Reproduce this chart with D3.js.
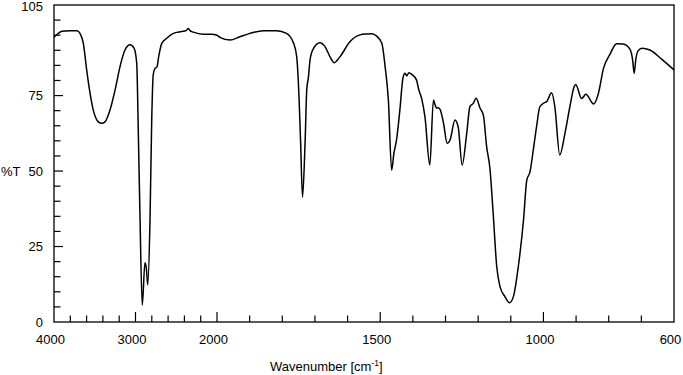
<!DOCTYPE html>
<html>
<head>
<meta charset="utf-8">
<script src="https://cdn.jsdelivr.net/npm/d3@7/dist/d3.min.js"></script>
<style>
  html, body { margin: 0; padding: 0; background: #fff; }
  svg { display: block; }
  text { font-family: "Liberation Sans", Arial, sans-serif; fill: #000; }
</style>
</head>
<body>
<svg id="chart" width="683" height="375"></svg>
<script>
// Wavenumbers (cm-1) of the spectrum samples
const wavenumbers = [4000,3951,3902,3804,3718,3681,3640,3599,3558,3518,3456,3415,3374,3313,3251,3190,3129,3067,3018,2985,2966,2945,2917,2884,2866,2850,2822,2801,2782,2761,2736,2718,2678,2617,2536,2433,2380,2352,2331,2291,2168,2066,2000,1991,1960,1930,1899,1858,1817,1787,1766,1756,1751,1744,1738,1730,1725,1720,1715,1705,1685,1669,1654,1641,1623,1593,1562,1541,1525,1511,1495,1485,1475,1465,1458,1450,1440,1430,1424,1419,1412,1403,1389,1382,1373,1363,1348,1337,1332,1327,1323,1317,1306,1295,1286,1271,1261,1249,1235,1225,1215,1206,1194,1184,1174,1164,1154,1143,1133,1118,1104,1092,1077,1061,1051,1041,1031,1021,1011,998,990,975,965,950,934,919,906,901,883,870,846,832,816,796,776,756,735,727,722,717,710,698,674,637,600];
// Transmittance (%T) at each wavenumber
const transmittance = [94.3,95.5,96.3,96.5,96.5,95.6,92.3,83.5,75.8,70.2,66.3,65.8,66.3,70.2,76.8,84.6,90.1,91.8,90.7,85.7,63.6,35,5.6,19.6,17.5,12.3,33.8,66.9,82,84,84.5,87.5,92.3,94,95.6,96.2,96.5,97.2,96.5,96,95.3,95.3,95,94.3,93.4,94.5,95.6,96.5,96.5,95.6,92.5,88,80,60,41.3,60,77,81,86.8,90.5,92.5,91.2,87.9,85.9,87.9,92.8,95.1,95.4,95.5,94.7,92.3,84.6,73.5,50.3,55.9,60.3,70,81,82.4,81.5,82.6,82,80.2,77,74,68,52,73.5,72,70.8,71,70.5,65.8,59.2,60.3,66.9,64.5,52,62.5,71.4,72.4,74.1,70.8,68.5,58.1,51,36,18.3,11.7,8.4,6.4,8.4,18.3,33.8,47,49.8,57,64.7,71.3,72.6,73,75.9,71.3,55.3,62.5,71.3,77.9,78.7,74,75.4,72.2,75.5,84,88.7,92.2,92.1,90.4,87,82.4,87,89.8,90.7,90.1,87,83.5];

// Axis ticks
const xMinorTicks = [3800,3600,3400,3200,2800,2600,2400,2200,1900,1800,1700,1600,1400,1300,1200,1100,900,800,700];
const xMajorTicks = [3000,2000,1500,1000];
const xTickLabels = [4000,3000,2000,1500,1000,600];
const yMinorTicks = [5,10,15,20,30,35,40,45,55,60,65,70,80,85,90,95,100];
const yMajorTicks = [25,50,75];
const yTickLabels = [0,25,50,75,105];

const svg = d3.select("#chart");
const L = 54, R = 674, T = 5, B = 322;

const x = d3.scaleLinear().domain([4000, 2000, 600]).range([L, 217, R]);
const y = d3.scaleLinear().domain([0, 105]).range([B, T]);

// Frame
svg.append("rect")
  .attr("x", L).attr("y", T).attr("width", R - L).attr("height", B - T)
  .attr("fill", "none").attr("stroke", "#000").attr("stroke-width", 1.3);

// X ticks (inward)
svg.append("g").selectAll("line").data(xMinorTicks).join("line")
  .attr("x1", d => x(d)).attr("x2", d => x(d))
  .attr("y1", B).attr("y2", B - 6.5)
  .attr("stroke", "#000").attr("stroke-width", 1.2);
svg.append("g").selectAll("line").data(xMajorTicks).join("line")
  .attr("x1", d => x(d)).attr("x2", d => x(d))
  .attr("y1", B).attr("y2", B - 10)
  .attr("stroke", "#000").attr("stroke-width", 1.2);

// Y ticks (inward)
svg.append("g").selectAll("line").data(yMinorTicks).join("line")
  .attr("x1", L).attr("x2", L + 6.5)
  .attr("y1", d => y(d)).attr("y2", d => y(d))
  .attr("stroke", "#000").attr("stroke-width", 1.2);
svg.append("g").selectAll("line").data(yMajorTicks).join("line")
  .attr("x1", L).attr("x2", L + 9)
  .attr("y1", d => y(d)).attr("y2", d => y(d))
  .attr("stroke", "#000").attr("stroke-width", 1.2);

// Tick labels
svg.append("g").selectAll("text").data(xTickLabels).join("text")
  .attr("x", d => x(d) - 3.5).attr("y", 344)
  .attr("text-anchor", "middle").attr("font-size", 13)
  .text(d => d);
svg.append("g").selectAll("text").data(yTickLabels).join("text")
  .attr("x", 43).attr("y", d => Math.max(y(d) + 4.7, 11))
  .attr("text-anchor", "end").attr("font-size", 13)
  .text(d => d);

// Axis titles
svg.append("text").attr("x", 1).attr("y", y(50) + 4.7)
  .attr("font-size", 13).text("%T");
const xt = svg.append("text").attr("x", 270).attr("y", 370.5).attr("font-size", 13);
xt.append("tspan").text("Wavenumber [cm");
xt.append("tspan").attr("dy", -5).attr("font-size", 8.5).text("-1");
xt.append("tspan").attr("dy", 5).text("]");

// Spectrum
const pts = wavenumbers.map((w, i) => [w, transmittance[i]]);
const line = d3.line()
  .x(d => x(d[0])).y(d => y(d[1]))
  .curve(d3.curveMonotoneX);
svg.append("path").datum(pts)
  .attr("d", line)
  .attr("fill", "none").attr("stroke", "#000")
  .attr("stroke-width", 1.5).attr("stroke-linejoin", "round");
</script>
</body>
</html>
